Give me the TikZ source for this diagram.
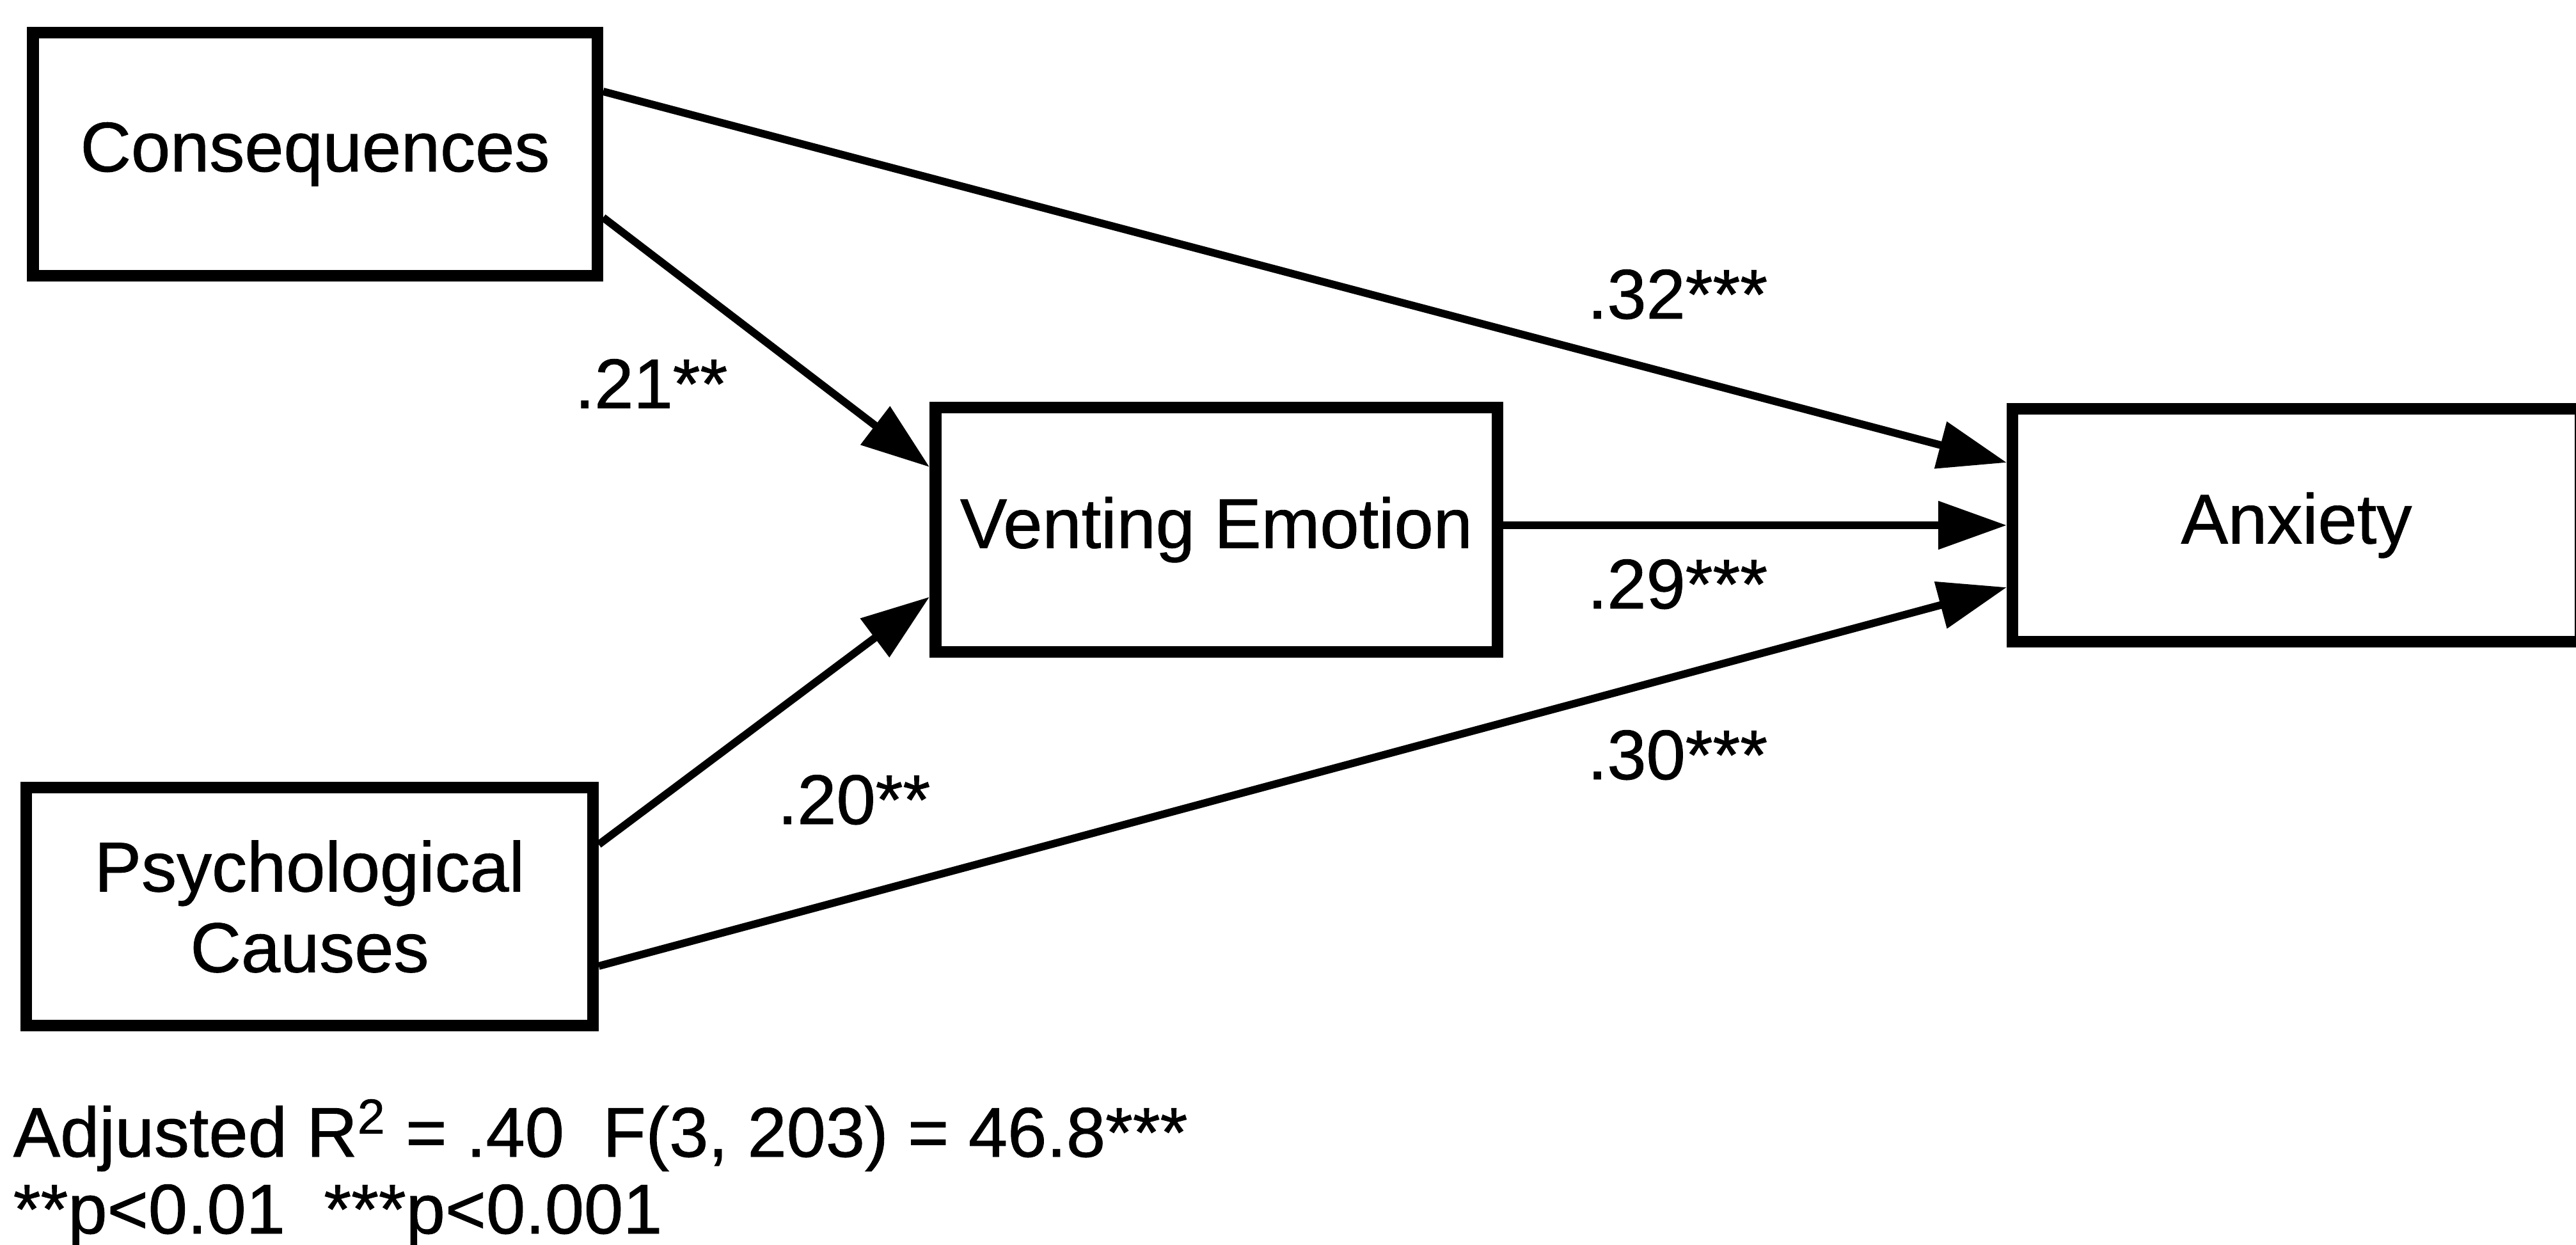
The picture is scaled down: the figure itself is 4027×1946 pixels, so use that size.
\documentclass[tikz,border=0pt]{standalone}
\usepackage{fontspec}
\setmainfont[FakeBold=0.8]{Liberation Sans}
\usetikzlibrary{arrows.meta}
\newcommand\figfont{\fontsize{27.5pt}{31.5pt}\selectfont}
\begin{document}
\begin{tikzpicture}[x=0.25pt,y=-0.25pt,
  box/.style={draw, line width=4.6pt, inner sep=0pt, align=center, font=\figfont},
  arr/.style={line width=3pt, -{Triangle[length=26.75pt,width=18.25pt]}},
  coef/.style={inner sep=0pt, anchor=base west, font=\figfont},
  note/.style={inner sep=0pt, anchor=base west, font=\figfont}]
\useasboundingbox (0,0) rectangle (4027,1946);
\fill[white] (0,0) rectangle (4027,1946);
% boxes
\node[box, minimum width=220.6pt, minimum height=94.9pt] (cons) at (492.5,241) {Consequences};
\node[box, minimum width=219.6pt, minimum height=95.4pt] (vent) at (1901.5,828) {Venting Emotion};
\node[box, minimum width=221.9pt, minimum height=91pt] (anx) at (3590,821) {Anxiety};
\node[box, minimum width=221.4pt, minimum height=92.9pt] (psy) at (484,1417) {Psychological\\Causes};
% connectors
\draw[arr] (cons.east |- 0,143) -- (anx.west |- 0,723);
\draw[arr] (cons.east |- 0,340) -- (vent.west |- 0,730);
\draw[arr] (vent.east |- 0,821) -- (anx.west |- 0,821);
\draw[arr] (psy.east |- 0,1320) -- (vent.west |- 0,933);
\draw[arr] (psy.east |- 0,1510) -- (anx.west |- 0,918);
% coefficients
\node[coef] (c32) at (2481,498) {.32***};
\node[coef] (c29) at (2481,951) {.29***};
\node[coef] (c30) at (2481,1218) {.30***};
\node[coef] (c21) at (898,638) {.21**};
\node[coef] (c20) at (1215,1288) {.20**};
% notes
\node[note] (n1) at (20,1808) {Adjusted R\textsuperscript{2} = .40\hspace{0.55em}F(3, 203) = 46.8***};
\node[note] (n2) at (20,1928) {**p<0.01\hspace{0.55em}***p<0.001};
\end{tikzpicture}
\end{document}
